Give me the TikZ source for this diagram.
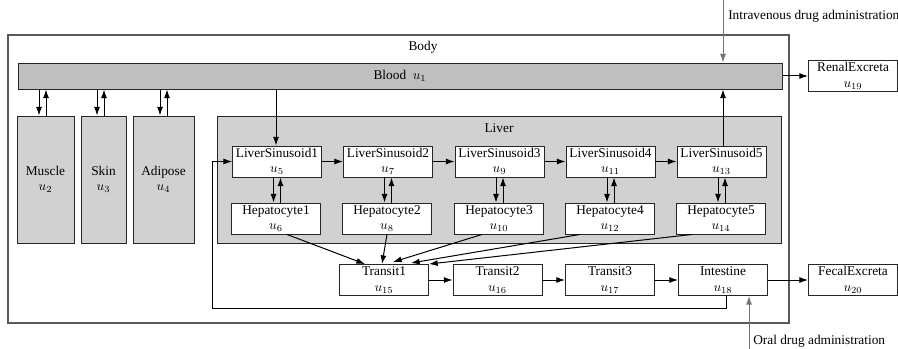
\documentclass[tikz,border=0pt]{standalone}
\usepackage{fontspec}
\setmainfont{Liberation Serif}
\usetikzlibrary{arrows.meta}
\begin{document}
\begin{tikzpicture}[x=0.75pt,y=-0.75pt,
  font=\fontsize{10}{11.5}\selectfont,
  comp/.style={draw=black!85, line width=0.7pt, fill=white, minimum width=66.75pt, minimum height=23.25pt, align=center, inner sep=1pt},
  organ/.style={draw=black!85, line width=0.7pt, fill=black!18, minimum height=95.25pt, align=center, inner sep=0pt},
  arr/.style={-{Latex[length=6.5pt,width=4.5pt]}, line width=0.75pt},
  garr/.style={-{Latex[length=6.5pt,width=4.5pt]}, line width=0.75pt, draw=black!55, fill=black!55},
  lbl/.style={inner sep=0pt}]
\useasboundingbox (0,0) rectangle (898,349);
% Body
\node[draw=black!65, line width=1pt, minimum width=585.75pt, minimum height=216pt, inner sep=0pt] (body) at (398.5,179) {};
\node[lbl] (bodylbl) at (423,47) {Body};
% Blood
\node[draw=black!85, line width=0.7pt, fill=black!25, minimum width=573pt, minimum height=19.5pt, inner sep=0pt] (blood) at (400,76) {Blood\ \ $u_1$};
% Renal
\node[comp] (renal) at (853,76) {RenalExcreta\\$u_{19}$};
% Organs
\node[organ, minimum width=42.75pt] (muscle) at (45.5,179.5) {Muscle\\$u_2$};
\node[organ, minimum width=33.75pt] (skin) at (103.5,179.5) {Skin\\$u_3$};
\node[organ, minimum width=45.75pt] (adipose) at (163.5,179.5) {Adipose\\$u_4$};
% Liver
\node[draw=black!85, line width=0.7pt, fill=black!18, minimum width=423pt, minimum height=95.25pt, inner sep=0pt] (liver) at (499,179.5) {};
\node[lbl] (liverlbl) at (499,128) {Liver};
% Sinusoids and hepatocytes
\node[comp] (ls1) at (277,161.5) {LiverSinusoid1\\$u_5$};
\node[comp] (ls2) at (388,161.5) {LiverSinusoid2\\$u_7$};
\node[comp] (ls3) at (499.5,161.5) {LiverSinusoid3\\$u_9$};
\node[comp] (ls4) at (610.5,161.5) {LiverSinusoid4\\$u_{11}$};
\node[comp] (ls5) at (721.5,161.5) {LiverSinusoid5\\$u_{13}$};
\node[comp] (h1) at (276,218.5) {Hepatocyte1\\$u_6$};
\node[comp] (h2) at (387,218.5) {Hepatocyte2\\$u_8$};
\node[comp] (h3) at (499,218.5) {Hepatocyte3\\$u_{10}$};
\node[comp] (h4) at (610,218.5) {Hepatocyte4\\$u_{12}$};
\node[comp] (h5) at (721,218.5) {Hepatocyte5\\$u_{14}$};
% Transit row
\node[comp] (t1) at (384,280) {Transit1\\$u_{15}$};
\node[comp] (t2) at (497.5,280) {Transit2\\$u_{16}$};
\node[comp] (t3) at (610,280) {Transit3\\$u_{17}$};
\node[comp] (int) at (723,280) {Intestine\\$u_{18}$};
\node[comp] (fecal) at (853,280) {FecalExcreta\\$u_{20}$};
% external labels
\coordinate (ivtop) at (723,0);
\node[lbl, anchor=west] (ivlbl) at (728,16) {Intravenous drug administration};
\coordinate (oralbot) at (749,349);
\node[lbl, anchor=west] (orallbl) at (753,341) {Oral drug administration};
% Blood <-> organs
\draw[arr] (39,0 |- blood.south) -- (39,0 |- muscle.north);
\draw[arr] (46,0 |- muscle.north) -- (46,0 |- blood.south);
\draw[arr] (97,0 |- blood.south) -- (97,0 |- skin.north);
\draw[arr] (104,0 |- skin.north) -- (104,0 |- blood.south);
\draw[arr] (160,0 |- blood.south) -- (160,0 |- adipose.north);
\draw[arr] (167,0 |- adipose.north) -- (167,0 |- blood.south);
% Blood -> LS1, LS5 -> Blood
\draw[arr] (276,0 |- blood.south) -- (276,0 |- ls1.north);
\draw[arr] (ls5.north -| 723,0) -- (723,0 |- blood.south);
% IV
\draw[garr] (ivtop) -- (723,0 |- blood.north);
% Blood -> renal
\draw[arr] (blood.east |- renal.west) -- (renal.west);
% LS chain
\draw[arr] (ls1) -- (ls2);
\draw[arr] (ls2) -- (ls3);
\draw[arr] (ls3) -- (ls4);
\draw[arr] (ls4) -- (ls5);
% LS <-> Hep
\foreach \i in {1,...,5}{
  \draw[arr] ([xshift=-3.5*0.75pt]ls\i.south) -- ([xshift=-3.5*0.75pt]ls\i.south |- h\i.north);
  \draw[arr] ([xshift=3.5*0.75pt]ls\i.south |- h\i.north) -- ([xshift=3.5*0.75pt]ls\i.south);
}
% Hep -> Transit1
\draw[arr] (287,0 |- h1.south) -- (365,0 |- t1.north);
\draw[arr] (387,0 |- h2.south) -- (382,0 |- t1.north);
\draw[arr] (482,0 |- h3.south) -- (393,262);
\draw[arr] (580,0 |- h4.south) -- (411,263);
\draw[arr] (692,0 |- h5.south) -- (t1.north east);
% Transit chain
\draw[arr] (t1) -- (t2);
\draw[arr] (t2) -- (t3);
\draw[arr] (t3) -- (int);
\draw[arr] (int) -- (fecal);
% Intestine -> LS1 (enterohepatic)
\draw[arr, line width=0.6pt] (726,0 |- int.south) -- (726,308) -- (212,308) -- (212,0 |- ls1.west) -- (ls1.west);
% Oral
\draw[garr] (oralbot) -- (749,0 |- int.south);
\end{tikzpicture}
\end{document}
